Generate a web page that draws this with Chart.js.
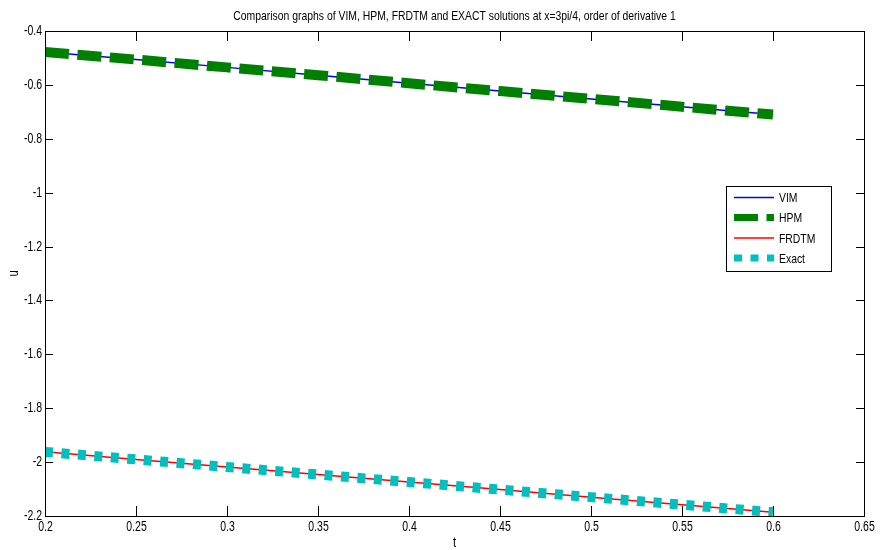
<!DOCTYPE html>
<html>
<head>
<meta charset="utf-8">
<script src="https://cdn.jsdelivr.net/npm/chart.js@4.4.0/dist/chart.umd.min.js"></script>
<style>
  body { margin: 0; background: #fff; }
  #wrap { width: 880px; height: 550px; }
</style>
</head>
<body>
<div id="wrap"><canvas id="chart" width="880" height="550"></canvas></div>
<script>
const FONT = '"Liberation Sans", Arial, sans-serif';

// time samples and solution values at x = 3pi/4
const t = [0.2, 0.25, 0.3, 0.35, 0.4, 0.45, 0.5, 0.55, 0.6];
const vim = [-0.478, -0.506, -0.535, -0.564, -0.594, -0.623, -0.652, -0.681, -0.710];
const hpm = [-0.478, -0.506, -0.535, -0.564, -0.594, -0.623, -0.652, -0.681, -0.710];
const frdtm = [-1.962, -1.990, -2.018, -2.046, -2.074, -2.102, -2.130, -2.158, -2.186];
const exact = [-1.962, -1.990, -2.018, -2.046, -2.074, -2.102, -2.130, -2.158, -2.186];

const xTicks = [0.2, 0.25, 0.3, 0.35, 0.4, 0.45, 0.5, 0.55, 0.6, 0.65];
const yTicks = [-2.2, -2, -1.8, -1.6, -1.4, -1.2, -1, -0.8, -0.6, -0.4];

const titleText = 'Comparison graphs of VIM, HPM, FRDTM and EXACT solutions at x=3pi/4, order of derivative 1';
const xLabel = 't';
const yLabel = 'u';

const pts = ys => t.map((x, i) => ({ x: x, y: ys[i] }));
const fmt = v => String(+Number(v).toFixed(2));

// condensed text, like the old MATLAB figure fonts
function text(ctx, str, x, y, align, size, sx, rot) {
  ctx.save();
  ctx.translate(x, y);
  if (rot) ctx.rotate(rot);
  ctx.scale(sx, 1);
  ctx.font = size + 'px ' + FONT;
  ctx.textAlign = align;
  ctx.textBaseline = 'middle';
  ctx.fillStyle = '#000';
  ctx.fillText(str, 0, 0);
  ctx.restore();
}

// frame, inward ticks on all four sides, labels, title and legend box
const matlabAxes = {
  id: 'matlabAxes',
  afterDraw(chart) {
    const ctx = chart.ctx;
    const a = chart.chartArea;
    const xs = chart.scales.x, ys = chart.scales.y;
    ctx.save();
    ctx.strokeStyle = '#000';
    ctx.lineWidth = 1;
    ctx.strokeRect(Math.round(a.left) + 0.5, Math.round(a.top) + 0.5,
      Math.round(a.right - a.left), Math.round(a.bottom - a.top));
    ctx.beginPath();
    xTicks.forEach(v => {
      const px = Math.round(xs.getPixelForValue(v)) + 0.5;
      ctx.moveTo(px, a.bottom); ctx.lineTo(px, a.bottom - 10);
      ctx.moveTo(px, a.top); ctx.lineTo(px, a.top + 10);
      text(ctx, fmt(v), px, a.bottom + 11, 'center', 14, 0.75);
    });
    yTicks.forEach(v => {
      const py = Math.round(ys.getPixelForValue(v)) + 0.5;
      ctx.moveTo(a.left, py); ctx.lineTo(a.left + 8, py);
      ctx.moveTo(a.right, py); ctx.lineTo(a.right - 8, py);
      text(ctx, fmt(v), a.left - 3, py, 'right', 14, 0.75);
    });
    ctx.stroke();

    text(ctx, titleText, (a.left + a.right) / 2, 16, 'center', 13, 0.8);
    text(ctx, xLabel, (a.left + a.right) / 2, 543, 'center', 14, 0.8);
    text(ctx, yLabel, 14, (a.top + a.bottom) / 2, 'center', 14, 0.8, -Math.PI / 2);

    // legend
    const lx = 726, ly = 186, lw = 105, lh = 85;
    ctx.fillStyle = '#fff';
    ctx.fillRect(lx, ly, lw, lh);
    ctx.strokeRect(lx + 0.5, ly + 0.5, lw, lh);
    const rows = [197.5, 217.5, 238, 258];
    chart.data.datasets.forEach((ds, i) => {
      const y = rows[i];
      ctx.save();
      ctx.strokeStyle = ds.borderColor;
      ctx.lineWidth = Math.min(ds.borderWidth, 7);
      ctx.lineCap = 'butt';
      ctx.setLineDash(ds.borderDash || []);
      ctx.beginPath();
      ctx.moveTo(734, y);
      ctx.lineTo(774, y);
      ctx.stroke();
      ctx.restore();
      text(ctx, ds.label, 779, y + 1, 'left', 13, 0.8);
    });
    ctx.restore();
  }
};

new Chart(document.getElementById('chart'), {
  type: 'line',
  data: {
    datasets: [
      { label: 'VIM', data: pts(vim), borderColor: '#0000ff', borderWidth: 1.5, order: 4 },
      { label: 'HPM', data: pts(hpm), borderColor: '#008000', borderWidth: 10, borderDash: [24, 8.5], order: 3 },
      { label: 'FRDTM', data: pts(frdtm), borderColor: '#ff0000', borderWidth: 1.5, order: 2 },
      { label: 'Exact', data: pts(exact), borderColor: '#00bfbf', borderWidth: 10, borderDash: [8, 8.5], order: 1 }
    ]
  },
  options: {
    responsive: false,
    animation: false,
    layout: { padding: { top: 31, right: 16 } },
    elements: {
      point: { radius: 0 },
      line: { tension: 0, borderCapStyle: 'butt', fill: false }
    },
    plugins: {
      legend: { display: false },
      title: { display: false },
      tooltip: { enabled: false }
    },
    scales: {
      x: {
        type: 'linear',
        min: 0.2, max: 0.65,
        afterFit: s => { s.height = 34; },
        afterBuildTicks: s => { s.ticks = xTicks.map(v => ({ value: v })); },
        grid: { display: false, drawTicks: false },
        border: { display: false },
        ticks: { display: false }
      },
      y: {
        type: 'linear',
        min: -2.2, max: -0.4,
        afterFit: s => { s.width = 45; },
        afterBuildTicks: s => { s.ticks = yTicks.map(v => ({ value: v })); },
        grid: { display: false, drawTicks: false },
        border: { display: false },
        ticks: { display: false }
      }
    }
  },
  plugins: [matlabAxes]
});
</script>
</body>
</html>
